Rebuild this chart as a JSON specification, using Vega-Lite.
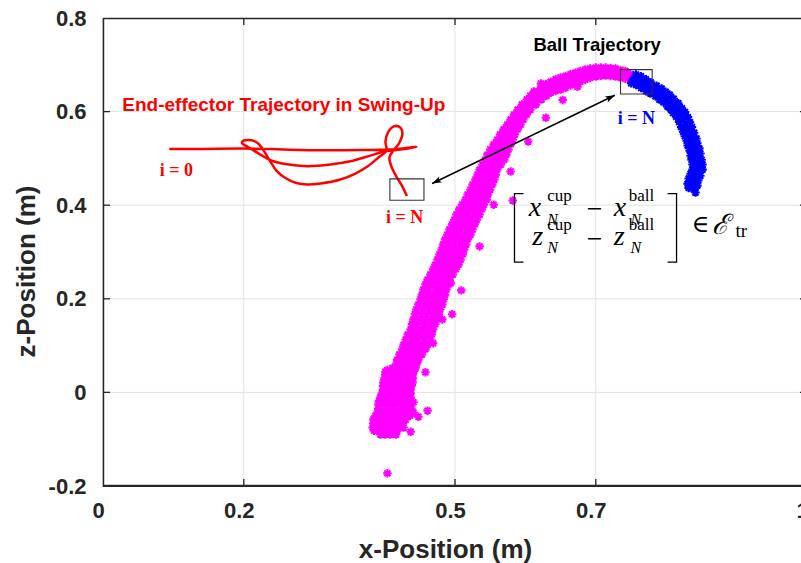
{
 "$schema": "https://vega.github.io/schema/vega-lite/v6.json",
 "width": 704,
 "height": 468,
 "autosize": {"type": "none"},
 "padding": {"left": 103, "top": 18, "right": -6, "bottom": 77},
 "background": "white",
 "datasets": {
  "gridX": [{"x":0.2},{"x":0.5},{"x":0.7}],
  "gridY": [{"z":0},{"z":0.2},{"z":0.4},{"z":0.6}],
  "frame": [
   {"x":0.0008,"x2":0.0008,"z":-0.1988,"z2":0.7988},{"x":0.0008,"x2":0.9993,"z":-0.1988,"z2":-0.1988},{"x":0.0008,"x2":0.9993,"z":0.7988,"z2":0.7988},
   {"x":0.2,"x2":0.2,"z":-0.1988,"z2":-0.185},{"x":0.5,"x2":0.5,"z":-0.1988,"z2":-0.185},{"x":0.7,"x2":0.7,"z":-0.1988,"z2":-0.185},
   {"x":0.2,"x2":0.2,"z":0.785,"z2":0.7988},{"x":0.5,"x2":0.5,"z":0.785,"z2":0.7988},{"x":0.7,"x2":0.7,"z":0.785,"z2":0.7988},
   {"x":0.0008,"x2":0.01,"z":0.0001,"z2":0.0001},{"x":0.0008,"x2":0.01,"z":0.2,"z2":0.2},{"x":0.0008,"x2":0.01,"z":0.4,"z2":0.4},{"x":0.0008,"x2":0.01,"z":0.6,"z2":0.6},
   {"x":0.99,"x2":0.9993,"z":0.0001,"z2":0.0001},{"x":0.99,"x2":0.9993,"z":0.2,"z2":0.2},{"x":0.99,"x2":0.9993,"z":0.4,"z2":0.4},{"x":0.99,"x2":0.9993,"z":0.6,"z2":0.6}
  ],
  "mag": [
   {"x":0.394,"z":-0.09},{"x":0.401,"z":-0.09},{"x":0.408,"z":-0.09},{"x":0.416,"z":-0.09},
   {"x":0.385,"z":-0.082},{"x":0.393,"z":-0.082},{"x":0.401,"z":-0.082},{"x":0.41,"z":-0.082},{"x":0.418,"z":-0.082},
   {"x":0.383,"z":-0.075},{"x":0.392,"z":-0.075},{"x":0.402,"z":-0.075},{"x":0.412,"z":-0.075},{"x":0.422,"z":-0.075},
   {"x":0.384,"z":-0.066},{"x":0.394,"z":-0.066},{"x":0.405,"z":-0.066},{"x":0.415,"z":-0.066},{"x":0.426,"z":-0.066},
   {"x":0.384,"z":-0.058},{"x":0.395,"z":-0.058},{"x":0.407,"z":-0.058},{"x":0.418,"z":-0.058},{"x":0.43,"z":-0.058},
   {"x":0.387,"z":-0.05},{"x":0.399,"z":-0.05},{"x":0.411,"z":-0.05},{"x":0.423,"z":-0.05},{"x":0.436,"z":-0.05},
   {"x":0.39,"z":-0.043},{"x":0.403,"z":-0.043},{"x":0.415,"z":-0.043},{"x":0.428,"z":-0.043},{"x":0.441,"z":-0.043},
   {"x":0.391,"z":-0.035},{"x":0.403,"z":-0.035},{"x":0.414,"z":-0.035},{"x":0.426,"z":-0.035},{"x":0.438,"z":-0.035},
   {"x":0.391,"z":-0.026},{"x":0.402,"z":-0.026},{"x":0.414,"z":-0.026},{"x":0.425,"z":-0.026},{"x":0.437,"z":-0.026},
   {"x":0.392,"z":-0.018},{"x":0.403,"z":-0.018},{"x":0.414,"z":-0.018},{"x":0.426,"z":-0.018},{"x":0.437,"z":-0.018},
   {"x":0.394,"z":-0.011},{"x":0.405,"z":-0.011},{"x":0.416,"z":-0.011},{"x":0.426,"z":-0.011},{"x":0.437,"z":-0.011},
   {"x":0.396,"z":-0.002},{"x":0.406,"z":-0.002},{"x":0.416,"z":-0.002},{"x":0.427,"z":-0.002},{"x":0.437,"z":-0.002},
   {"x":0.398,"z":0.006},{"x":0.408,"z":0.006},{"x":0.418,"z":0.006},{"x":0.428,"z":0.006},{"x":0.437,"z":0.006},
   {"x":0.398,"z":0.014},{"x":0.408,"z":0.014},{"x":0.418,"z":0.014},{"x":0.428,"z":0.014},{"x":0.438,"z":0.014},
   {"x":0.398,"z":0.021},{"x":0.409,"z":0.021},{"x":0.419,"z":0.021},{"x":0.43,"z":0.021},{"x":0.44,"z":0.021},
   {"x":0.4,"z":0.03},{"x":0.41,"z":0.03},{"x":0.42,"z":0.03},{"x":0.43,"z":0.03},{"x":0.44,"z":0.03},
   {"x":0.401,"z":0.038},{"x":0.411,"z":0.038},{"x":0.421,"z":0.038},{"x":0.431,"z":0.038},{"x":0.44,"z":0.038},
   {"x":0.408,"z":0.046},{"x":0.417,"z":0.046},{"x":0.425,"z":0.046},{"x":0.434,"z":0.046},{"x":0.442,"z":0.046},
   {"x":0.415,"z":0.053},{"x":0.422,"z":0.053},{"x":0.43,"z":0.053},{"x":0.437,"z":0.053},{"x":0.444,"z":0.053},
   {"x":0.401,"z":0.044},{"x":0.411,"z":0.052},{"x":0.404,"z":0.048},
   {"x":0.389,"z":-0.07},{"x":0.399,"z":-0.07},{"x":0.41,"z":-0.07},{"x":0.42,"z":-0.07},
   {"x":0.39,"z":-0.054},{"x":0.401,"z":-0.054},{"x":0.413,"z":-0.054},{"x":0.424,"z":-0.054},
   {"x":0.397,"z":-0.039},{"x":0.409,"z":-0.039},{"x":0.42,"z":-0.039},{"x":0.432,"z":-0.039},
   {"x":0.397,"z":-0.022},{"x":0.408,"z":-0.022},{"x":0.42,"z":-0.022},{"x":0.431,"z":-0.022},
   {"x":0.4,"z":-0.006},{"x":0.411,"z":-0.006},{"x":0.421,"z":-0.006},{"x":0.432,"z":-0.006},
   {"x":0.403,"z":0.01},{"x":0.413,"z":0.01},{"x":0.423,"z":0.01},{"x":0.433,"z":0.01},
   {"x":0.404,"z":0.026},{"x":0.414,"z":0.026},{"x":0.425,"z":0.026},{"x":0.435,"z":0.026},
   {"x":0.413,"z":0.042},{"x":0.421,"z":0.042},{"x":0.43,"z":0.042},{"x":0.438,"z":0.042},
   {"x":0.417,"z":0.062},{"x":0.424,"z":0.062},{"x":0.431,"z":0.062},{"x":0.439,"z":0.062},{"x":0.446,"z":0.062},
   {"x":0.418,"z":0.07},{"x":0.426,"z":0.07},{"x":0.433,"z":0.07},{"x":0.441,"z":0.07},{"x":0.448,"z":0.07},
   {"x":0.421,"z":0.081},{"x":0.429,"z":0.081},{"x":0.437,"z":0.081},{"x":0.445,"z":0.081},{"x":0.453,"z":0.081},
   {"x":0.425,"z":0.092},{"x":0.433,"z":0.092},{"x":0.441,"z":0.092},{"x":0.45,"z":0.092},{"x":0.458,"z":0.092},
   {"x":0.427,"z":0.102},{"x":0.436,"z":0.102},{"x":0.444,"z":0.102},{"x":0.453,"z":0.102},{"x":0.461,"z":0.102},
   {"x":0.43,"z":0.113},{"x":0.439,"z":0.113},{"x":0.447,"z":0.113},{"x":0.456,"z":0.113},{"x":0.465,"z":0.113},
   {"x":0.433,"z":0.124},{"x":0.442,"z":0.124},{"x":0.45,"z":0.124},{"x":0.459,"z":0.124},{"x":0.467,"z":0.124},
   {"x":0.437,"z":0.135},{"x":0.445,"z":0.135},{"x":0.453,"z":0.135},{"x":0.461,"z":0.135},{"x":0.469,"z":0.135},
   {"x":0.439,"z":0.146},{"x":0.447,"z":0.146},{"x":0.456,"z":0.146},{"x":0.464,"z":0.146},{"x":0.472,"z":0.146},
   {"x":0.441,"z":0.156},{"x":0.45,"z":0.156},{"x":0.458,"z":0.156},{"x":0.467,"z":0.156},{"x":0.475,"z":0.156},
   {"x":0.443,"z":0.167},{"x":0.452,"z":0.167},{"x":0.46,"z":0.167},{"x":0.469,"z":0.167},{"x":0.477,"z":0.167},
   {"x":0.445,"z":0.177},{"x":0.454,"z":0.177},{"x":0.462,"z":0.177},{"x":0.471,"z":0.177},{"x":0.479,"z":0.177},
   {"x":0.448,"z":0.188},{"x":0.457,"z":0.188},{"x":0.465,"z":0.188},{"x":0.474,"z":0.188},{"x":0.482,"z":0.188},
   {"x":0.451,"z":0.199},{"x":0.459,"z":0.199},{"x":0.468,"z":0.199},{"x":0.476,"z":0.199},{"x":0.484,"z":0.199},
   {"x":0.453,"z":0.209},{"x":0.461,"z":0.209},{"x":0.47,"z":0.209},{"x":0.478,"z":0.209},{"x":0.486,"z":0.209},
   {"x":0.455,"z":0.22},{"x":0.463,"z":0.22},{"x":0.472,"z":0.22},{"x":0.48,"z":0.22},{"x":0.488,"z":0.22},
   {"x":0.458,"z":0.231},{"x":0.466,"z":0.231},{"x":0.474,"z":0.231},{"x":0.482,"z":0.231},{"x":0.49,"z":0.231},
   {"x":0.461,"z":0.241},{"x":0.469,"z":0.241},{"x":0.477,"z":0.241},{"x":0.485,"z":0.241},{"x":0.492,"z":0.241},
   {"x":0.465,"z":0.252},{"x":0.473,"z":0.252},{"x":0.481,"z":0.252},{"x":0.489,"z":0.252},{"x":0.497,"z":0.252},
   {"x":0.469,"z":0.263},{"x":0.477,"z":0.263},{"x":0.485,"z":0.263},{"x":0.493,"z":0.263},{"x":0.501,"z":0.263},
   {"x":0.472,"z":0.273},{"x":0.48,"z":0.273},{"x":0.488,"z":0.273},{"x":0.497,"z":0.273},{"x":0.505,"z":0.273},
   {"x":0.475,"z":0.284},{"x":0.483,"z":0.284},{"x":0.492,"z":0.284},{"x":0.5,"z":0.284},{"x":0.508,"z":0.284},
   {"x":0.478,"z":0.295},{"x":0.486,"z":0.295},{"x":0.494,"z":0.295},{"x":0.503,"z":0.295},{"x":0.511,"z":0.295},
   {"x":0.481,"z":0.305},{"x":0.489,"z":0.305},{"x":0.497,"z":0.305},{"x":0.505,"z":0.305},{"x":0.513,"z":0.305},
   {"x":0.483,"z":0.316},{"x":0.491,"z":0.316},{"x":0.499,"z":0.316},{"x":0.508,"z":0.316},{"x":0.516,"z":0.316},
   {"x":0.486,"z":0.327},{"x":0.494,"z":0.327},{"x":0.502,"z":0.327},{"x":0.51,"z":0.327},{"x":0.518,"z":0.327},
   {"x":0.489,"z":0.337},{"x":0.497,"z":0.337},{"x":0.505,"z":0.337},{"x":0.514,"z":0.337},{"x":0.522,"z":0.337},
   {"x":0.492,"z":0.348},{"x":0.5,"z":0.348},{"x":0.508,"z":0.348},{"x":0.517,"z":0.348},{"x":0.525,"z":0.348},
   {"x":0.496,"z":0.359},{"x":0.504,"z":0.359},{"x":0.512,"z":0.359},{"x":0.52,"z":0.359},{"x":0.528,"z":0.359},
   {"x":0.499,"z":0.369},{"x":0.507,"z":0.369},{"x":0.515,"z":0.369},{"x":0.523,"z":0.369},{"x":0.531,"z":0.369},
   {"x":0.502,"z":0.38},{"x":0.51,"z":0.38},{"x":0.518,"z":0.38},{"x":0.527,"z":0.38},{"x":0.535,"z":0.38},
   {"x":0.506,"z":0.391},{"x":0.514,"z":0.391},{"x":0.522,"z":0.391},{"x":0.53,"z":0.391},{"x":0.538,"z":0.391},
   {"x":0.51,"z":0.401},{"x":0.518,"z":0.401},{"x":0.525,"z":0.401},{"x":0.533,"z":0.401},{"x":0.541,"z":0.401},
   {"x":0.515,"z":0.412},{"x":0.522,"z":0.412},{"x":0.53,"z":0.412},{"x":0.537,"z":0.412},{"x":0.545,"z":0.412},
   {"x":0.518,"z":0.423},{"x":0.525,"z":0.423},{"x":0.532,"z":0.423},{"x":0.54,"z":0.423},{"x":0.547,"z":0.423},
   {"x":0.522,"z":0.433},{"x":0.529,"z":0.433},{"x":0.536,"z":0.433},{"x":0.543,"z":0.433},{"x":0.55,"z":0.433},
   {"x":0.525,"z":0.444},{"x":0.532,"z":0.444},{"x":0.539,"z":0.444},{"x":0.546,"z":0.444},{"x":0.553,"z":0.444},
   {"x":0.529,"z":0.455},{"x":0.536,"z":0.455},{"x":0.542,"z":0.455},{"x":0.549,"z":0.455},{"x":0.556,"z":0.455},
   {"x":0.532,"z":0.465},{"x":0.539,"z":0.465},{"x":0.545,"z":0.465},{"x":0.552,"z":0.465},{"x":0.558,"z":0.465},
   {"x":0.535,"z":0.476},{"x":0.541,"z":0.476},{"x":0.547,"z":0.476},{"x":0.554,"z":0.476},{"x":0.56,"z":0.476},
   {"x":0.539,"z":0.487},{"x":0.546,"z":0.487},{"x":0.552,"z":0.487},{"x":0.559,"z":0.487},{"x":0.565,"z":0.487},
   {"x":0.543,"z":0.497},{"x":0.55,"z":0.497},{"x":0.556,"z":0.497},{"x":0.563,"z":0.497},{"x":0.57,"z":0.497},
   {"x":0.546,"z":0.508},{"x":0.553,"z":0.508},{"x":0.559,"z":0.508},{"x":0.566,"z":0.508},{"x":0.573,"z":0.508},
   {"x":0.55,"z":0.519},{"x":0.556,"z":0.519},{"x":0.563,"z":0.519},{"x":0.569,"z":0.519},{"x":0.576,"z":0.519},
   {"x":0.555,"z":0.53},{"x":0.561,"z":0.53},{"x":0.567,"z":0.53},{"x":0.573,"z":0.53},{"x":0.579,"z":0.53},
   {"x":0.56,"z":0.54},{"x":0.565,"z":0.54},{"x":0.571,"z":0.54},{"x":0.576,"z":0.54},{"x":0.582,"z":0.54},
   {"x":0.564,"z":0.551},{"x":0.569,"z":0.551},{"x":0.574,"z":0.551},{"x":0.58,"z":0.551},{"x":0.585,"z":0.551},
   {"x":0.569,"z":0.562},{"x":0.574,"z":0.562},{"x":0.579,"z":0.562},{"x":0.584,"z":0.562},{"x":0.589,"z":0.562},
   {"x":0.574,"z":0.572},{"x":0.579,"z":0.572},{"x":0.583,"z":0.572},{"x":0.588,"z":0.572},{"x":0.593,"z":0.572},
   {"x":0.579,"z":0.583},{"x":0.583,"z":0.583},{"x":0.588,"z":0.583},{"x":0.592,"z":0.583},{"x":0.597,"z":0.583},
   {"x":0.584,"z":0.594},{"x":0.588,"z":0.594},{"x":0.593,"z":0.594},{"x":0.597,"z":0.594},{"x":0.602,"z":0.594},
   {"x":0.589,"z":0.604},{"x":0.593,"z":0.604},{"x":0.598,"z":0.604},{"x":0.602,"z":0.604},{"x":0.607,"z":0.604},
   {"x":0.595,"z":0.615},{"x":0.6,"z":0.615},{"x":0.605,"z":0.615},{"x":0.61,"z":0.615},{"x":0.615,"z":0.615},
   {"x":0.602,"z":0.626},{"x":0.607,"z":0.626},{"x":0.612,"z":0.626},{"x":0.618,"z":0.626},{"x":0.623,"z":0.626},
   {"x":0.607,"z":0.634},{"x":0.613,"z":0.634},{"x":0.618,"z":0.634},{"x":0.624,"z":0.634},{"x":0.63,"z":0.634},
   {"x":0.612,"z":0.643},{"x":0.618,"z":0.643},{"x":0.624,"z":0.643},{"x":0.63,"z":0.643},{"x":0.636,"z":0.643},
   {"x":0.622,"z":0.643},{"x":0.622,"z":0.652},{"x":0.622,"z":0.66},
   {"x":0.629,"z":0.638},{"x":0.629,"z":0.648},{"x":0.629,"z":0.659},
   {"x":0.636,"z":0.64},{"x":0.636,"z":0.651},{"x":0.636,"z":0.664},
   {"x":0.643,"z":0.644},{"x":0.643,"z":0.656},{"x":0.643,"z":0.669},
   {"x":0.65,"z":0.647},{"x":0.65,"z":0.66},{"x":0.65,"z":0.673},
   {"x":0.657,"z":0.651},{"x":0.657,"z":0.664},{"x":0.657,"z":0.676},
   {"x":0.664,"z":0.656},{"x":0.664,"z":0.668},{"x":0.664,"z":0.68},
   {"x":0.671,"z":0.66},{"x":0.671,"z":0.671},{"x":0.671,"z":0.683},
   {"x":0.678,"z":0.664},{"x":0.678,"z":0.675},{"x":0.678,"z":0.687},
   {"x":0.685,"z":0.668},{"x":0.685,"z":0.679},{"x":0.685,"z":0.69},
   {"x":0.692,"z":0.672},{"x":0.692,"z":0.682},{"x":0.692,"z":0.692},
   {"x":0.7,"z":0.675},{"x":0.7,"z":0.684},{"x":0.7,"z":0.694},
   {"x":0.707,"z":0.676},{"x":0.707,"z":0.685},{"x":0.707,"z":0.694},
   {"x":0.714,"z":0.677},{"x":0.714,"z":0.686},{"x":0.714,"z":0.694},
   {"x":0.721,"z":0.676},{"x":0.721,"z":0.685},{"x":0.721,"z":0.693},
   {"x":0.728,"z":0.675},{"x":0.728,"z":0.684},{"x":0.728,"z":0.692},
   {"x":0.735,"z":0.673},{"x":0.735,"z":0.681},{"x":0.735,"z":0.689},
   {"x":0.742,"z":0.67},{"x":0.742,"z":0.679},{"x":0.742,"z":0.687},
   {"x":0.749,"z":0.668},{"x":0.749,"z":0.68},
   {"x":0.674,"z":0.653},{"x":0.653,"z":0.625},{"x":0.629,"z":0.587},{"x":0.604,"z":0.536},{"x":0.579,"z":0.472},
   {"x":0.582,"z":0.41},{"x":0.555,"z":0.401},{"x":0.535,"z":0.312},{"x":0.494,"z":0.233},{"x":0.509,"z":0.218},
   {"x":0.496,"z":0.167},{"x":0.482,"z":0.156},{"x":0.469,"z":0.105},{"x":0.458,"z":0.043},{"x":0.461,"z":-0.039},
   {"x":0.448,"z":-0.052},{"x":0.437,"z":-0.084},{"x":0.427,"z":-0.075},{"x":0.441,"z":-0.021},{"x":0.404,"z":-0.173}
  ],
  "blu": [
   {"x":0.757,"z":0.6794},{"x":0.7536,"z":0.67},{"x":0.7502,"z":0.6606},
   {"x":0.7641,"z":0.6754},{"x":0.7607,"z":0.666},{"x":0.7573,"z":0.6566},
   {"x":0.7712,"z":0.6694},{"x":0.7678,"z":0.66},{"x":0.7644,"z":0.6506},
   {"x":0.7783,"z":0.6624},{"x":0.7749,"z":0.653},{"x":0.7715,"z":0.6436},
   {"x":0.7864,"z":0.6553},{"x":0.782,"z":0.647},{"x":0.7776,"z":0.6387},
   {"x":0.7935,"z":0.6493},{"x":0.7891,"z":0.641},{"x":0.7847,"z":0.6327},
   {"x":0.7992,"z":0.6423},{"x":0.7948,"z":0.634},{"x":0.7904,"z":0.6257},
   {"x":0.8049,"z":0.6363},{"x":0.8005,"z":0.628},{"x":0.7961,"z":0.6197},
   {"x":0.8106,"z":0.6273},{"x":0.8062,"z":0.619},{"x":0.8018,"z":0.6107},
   {"x":0.8172,"z":0.6177},{"x":0.8118,"z":0.611},{"x":0.8064,"z":0.6043},
   {"x":0.8224,"z":0.6071},{"x":0.8161,"z":0.602},{"x":0.8098,"z":0.5969},
   {"x":0.8267,"z":0.5991},{"x":0.8204,"z":0.594},{"x":0.8141,"z":0.5889},
   {"x":0.8309,"z":0.5881},{"x":0.8246,"z":0.583},{"x":0.8183,"z":0.5779},
   {"x":0.8338,"z":0.5771},{"x":0.8275,"z":0.572},{"x":0.8212,"z":0.5669},
   {"x":0.8366,"z":0.5671},{"x":0.8303,"z":0.562},{"x":0.824,"z":0.5569},
   {"x":0.8397,"z":0.5548},{"x":0.8331,"z":0.551},{"x":0.8265,"z":0.5472},
   {"x":0.8429,"z":0.5424},{"x":0.836,"z":0.54},{"x":0.8291,"z":0.5376},
   {"x":0.8443,"z":0.5324},{"x":0.8374,"z":0.53},{"x":0.8305,"z":0.5276},
   {"x":0.8471,"z":0.5214},{"x":0.8402,"z":0.519},{"x":0.8333,"z":0.5166},
   {"x":0.8485,"z":0.5104},{"x":0.8416,"z":0.508},{"x":0.8347,"z":0.5056},
   {"x":0.8502,"z":0.497},{"x":0.8431,"z":0.497},{"x":0.836,"z":0.497},
   {"x":0.8516,"z":0.487},{"x":0.8445,"z":0.487},{"x":0.8374,"z":0.487},
   {"x":0.8516,"z":0.476},{"x":0.8445,"z":0.476},{"x":0.8374,"z":0.476},
   {"x":0.8485,"z":0.4629},{"x":0.8416,"z":0.465},{"x":0.8347,"z":0.4671},
   {"x":0.8457,"z":0.4529},{"x":0.8388,"z":0.455},{"x":0.8319,"z":0.4571},
   {"x":0.8443,"z":0.4419},{"x":0.8374,"z":0.444},{"x":0.8305,"z":0.4461},
   {"x":0.8402,"z":0.435},{"x":0.836,"z":0.436},{"x":0.8318,"z":0.437},
   {"x":0.8416,"z":0.427}
  ],
  "ee": [
   {"i":1,"x":0.0942,"z":0.5203},{"i":2,"x":0.1383,"z":0.5203},{"i":3,"x":0.1994,"z":0.521},{"i":4,"x":0.2377,"z":0.5199},
   {"i":5,"x":0.2804,"z":0.5182},{"i":6,"x":0.323,"z":0.5173},{"i":7,"x":0.3656,"z":0.5178},{"i":8,"x":0.4026,"z":0.5188},
   {"i":9,"x":0.4296,"z":0.522},{"i":10,"x":0.4452,"z":0.5246},{"i":11,"x":0.4225,"z":0.5188},{"i":12,"x":0.4026,"z":0.5156},
   {"i":13,"x":0.3799,"z":0.506},{"i":14,"x":0.3514,"z":0.4939},{"i":15,"x":0.323,"z":0.4868},{"i":16,"x":0.2903,"z":0.4832},
   {"i":17,"x":0.2591,"z":0.4879},{"i":18,"x":0.2377,"z":0.4964},{"i":19,"x":0.2235,"z":0.5082},{"i":20,"x":0.2122,"z":0.5188},
   {"i":21,"x":0.2022,"z":0.5274},{"i":22,"x":0.1975,"z":0.5327},{"i":23,"x":0.1994,"z":0.538},{"i":24,"x":0.2065,"z":0.5395},
   {"i":25,"x":0.215,"z":0.537},{"i":26,"x":0.2221,"z":0.5295},{"i":27,"x":0.2292,"z":0.5146},{"i":28,"x":0.2377,"z":0.4932},
   {"i":29,"x":0.2463,"z":0.474},{"i":30,"x":0.2591,"z":0.458},{"i":31,"x":0.2747,"z":0.4473},{"i":32,"x":0.2903,"z":0.4441},
   {"i":33,"x":0.3088,"z":0.4462},{"i":34,"x":0.3372,"z":0.4548},{"i":35,"x":0.3585,"z":0.4676},{"i":36,"x":0.3756,"z":0.4825},
   {"i":37,"x":0.3912,"z":0.5018},{"i":38,"x":0.4026,"z":0.5167},{"i":39,"x":0.4012,"z":0.5359},{"i":40,"x":0.4054,"z":0.5573},
   {"i":41,"x":0.414,"z":0.569},{"i":42,"x":0.4225,"z":0.5658},{"i":43,"x":0.4253,"z":0.553},{"i":44,"x":0.4211,"z":0.5338},
   {"i":45,"x":0.4125,"z":0.5167},{"i":46,"x":0.4069,"z":0.5018},{"i":47,"x":0.4097,"z":0.4825},{"i":48,"x":0.4168,"z":0.4612},
   {"i":49,"x":0.4253,"z":0.4398},{"i":50,"x":0.4317,"z":0.4196}
  ],
  "boxes": [
   {"x":0.4075,"x2":0.4559,"z":0.4106,"z2":0.4563},
   {"x":0.7351,"x2":0.7801,"z":0.6377,"z2":0.6896}
  ],
  "arrow": [{"x":0.4675,"z":0.4462},{"x":0.727,"z":0.6348}],
  "headA": [{"x":0.727,"z":0.6348}],
  "headB": [{"x":0.4675,"z":0.4462}],
  "eeLabel": [{"x":0.0274,"z":0.602,"t":"End-effector Trajectory in Swing-Up"}],
  "ballLabel": [{"x":0.7019,"z":0.7287,"t":"Ball Trajectory"}],
  "iRed": [{"x":0.1042,"z":0.463,"t":"i = 0"},{"x":0.4284,"z":0.3623,"t":"i = N"}],
  "iBlue": [{"x":0.7576,"z":0.5743,"t":"i = N"}],
  "brackets": [
   {"g":"L","o":1,"x":0.5973,"z":0.4249},{"g":"L","o":2,"x":0.5845,"z":0.4249},{"g":"L","o":3,"x":0.5845,"z":0.2782},{"g":"L","o":4,"x":0.5973,"z":0.2782},
   {"g":"R","o":1,"x":0.8019,"z":0.4249},{"g":"R","o":2,"x":0.8147,"z":0.4249},{"g":"R","o":3,"x":0.8147,"z":0.2782},{"g":"R","o":4,"x":0.8019,"z":0.2782}
  ],
  "mathMain": [{"x":0.6048,"z":0.3764,"t":"x"},{"x":0.7256,"z":0.3764,"t":"x"},{"x":0.6096,"z":0.316,"t":"z"},{"x":0.7256,"z":0.316,"t":"z"}],
  "mathSup": [{"x":0.6309,"z":0.4098,"t":"cup"},{"x":0.7469,"z":0.4098,"t":"ball"},{"x":0.6309,"z":0.3479,"t":"cup"},{"x":0.7469,"z":0.3479,"t":"ball"}],
  "mathSub": [{"x":0.6309,"z":0.3577,"t":"N"},{"x":0.7493,"z":0.3577,"t":"N"},{"x":0.6309,"z":0.2973,"t":"N"},{"x":0.7493,"z":0.2973,"t":"N"}],
  "minus": [{"x":0.6982,"z":0.3907,"t":"−"},{"x":0.6982,"z":0.3267,"t":"−"}],
  "elem": [{"x":0.849,"z":0.3438,"t":"∈"}],
  "calE": [{"x":0.8654,"z":0.3395,"t":"ℰ"}],
  "tr": [{"x":0.8985,"z":0.3331,"t":"tr"}]
 },
 "layer": [
  {
   "data": {"name": "gridX"},
   "mark": {"type": "rule", "color": "#e3e3e3", "strokeWidth": 1},
   "encoding": {
    "x": {"field": "x", "type": "quantitative", "scale": {"domain": [0, 1], "nice": false, "zero": false},
      "axis": {"orient": "bottom", "values": [0, 0.2, 0.5, 0.7, 1], "format": "~g", "grid": false, "domain": false, "ticks": false, "labels": true, "labelPadding": 14, "labelOffset": -5, "labelFlush": false, "labelOverlap": false, "title": "x-Position (m)", "titleX": 342, "titleY": 71, "titleBaseline": "alphabetic", "titleAlign": "center"}}
   }
  },
  {
   "data": {"name": "gridY"},
   "mark": {"type": "rule", "color": "#e3e3e3", "strokeWidth": 1},
   "encoding": {
    "y": {"field": "z", "type": "quantitative", "scale": {"domain": [-0.2, 0.8], "nice": false, "zero": false},
      "axis": {"orient": "left", "values": [-0.2, 0, 0.2, 0.4, 0.6, 0.8], "labelExpr": "toString(round(datum.value*10)/10)", "grid": false, "domain": false, "ticks": false, "labels": true, "labelPadding": 17, "labelFlush": false, "labelOverlap": false, "title": "z-Position (m)", "titleX": -69, "titleY": 253, "titleAngle": -90, "titleBaseline": "alphabetic", "titleAlign": "center"}}
   }
  },
  {
   "data": {"name": "mag"},
   "mark": {"type": "point", "shape": "M-1,0L1,0M0,-1L0,1M-0.7,-0.7L0.7,0.7M-0.7,0.7L0.7,-0.7", "filled": false, "color": "#ff00ff", "strokeWidth": 2.1, "size": 72, "opacity": 1},
   "encoding": {"x": {"field": "x", "type": "quantitative"}, "y": {"field": "z", "type": "quantitative"}}
  },
  {
   "data": {"name": "blu"},
   "mark": {"type": "point", "shape": "M-1,0L1,0M0,-1L0,1M-0.7,-0.7L0.7,0.7M-0.7,0.7L0.7,-0.7", "filled": false, "color": "#0000ff", "strokeWidth": 2.1, "size": 72, "opacity": 1},
   "encoding": {"x": {"field": "x", "type": "quantitative"}, "y": {"field": "z", "type": "quantitative"}}
  },
  {
   "data": {"name": "ee"},
   "mark": {"type": "line", "color": "#ff0000", "strokeWidth": 2.5, "interpolate": "catmull-rom"},
   "encoding": {"x": {"field": "x", "type": "quantitative"}, "y": {"field": "z", "type": "quantitative"}, "order": {"field": "i", "type": "quantitative"}}
  },
  {
   "data": {"name": "boxes"},
   "mark": {"type": "rect", "filled": false, "stroke": "#333333", "strokeWidth": 1.1},
   "encoding": {"x": {"field": "x", "type": "quantitative"}, "y": {"field": "z", "type": "quantitative"}, "x2": {"field": "x2"}, "y2": {"field": "z2"}}
  },
  {
   "data": {"name": "frame"},
   "mark": {"type": "rule", "color": "#262626", "strokeWidth": 1.3},
   "encoding": {"x": {"field": "x", "type": "quantitative"}, "y": {"field": "z", "type": "quantitative"}, "x2": {"field": "x2"}, "y2": {"field": "z2"}}
  },
  {
   "data": {"name": "arrow"},
   "mark": {"type": "line", "color": "#000000", "strokeWidth": 1.6},
   "encoding": {"x": {"field": "x", "type": "quantitative"}, "y": {"field": "z", "type": "quantitative"}}
  },
  {
   "data": {"name": "headA"},
   "mark": {"type": "point", "shape": "M0,0L0.55,1.6L0,1.2L-0.55,1.6Z", "filled": true, "color": "#000000", "opacity": 1, "size": 144, "angle": 64.2, "strokeWidth": 0},
   "encoding": {"x": {"field": "x", "type": "quantitative"}, "y": {"field": "z", "type": "quantitative"}}
  },
  {
   "data": {"name": "headB"},
   "mark": {"type": "point", "shape": "M0,0L0.55,1.6L0,1.2L-0.55,1.6Z", "filled": true, "color": "#000000", "opacity": 1, "size": 144, "angle": 244.2, "strokeWidth": 0},
   "encoding": {"x": {"field": "x", "type": "quantitative"}, "y": {"field": "z", "type": "quantitative"}}
  },
  {
   "data": {"name": "eeLabel"},
   "mark": {"type": "text", "font": "Liberation Sans", "fontWeight": "bold", "fontSize": 19, "color": "#ff0000", "align": "left", "baseline": "alphabetic"},
   "encoding": {"x": {"field": "x", "type": "quantitative"}, "y": {"field": "z", "type": "quantitative"}, "text": {"field": "t"}}
  },
  {
   "data": {"name": "ballLabel"},
   "mark": {"type": "text", "font": "Liberation Sans", "fontWeight": "bold", "fontSize": 18.5, "color": "#000000", "align": "center", "baseline": "alphabetic"},
   "encoding": {"x": {"field": "x", "type": "quantitative"}, "y": {"field": "z", "type": "quantitative"}, "text": {"field": "t"}}
  },
  {
   "data": {"name": "iRed"},
   "mark": {"type": "text", "font": "Liberation Serif", "fontWeight": "bold", "fontSize": 18, "color": "#ff0000", "align": "center", "baseline": "alphabetic"},
   "encoding": {"x": {"field": "x", "type": "quantitative"}, "y": {"field": "z", "type": "quantitative"}, "text": {"field": "t"}}
  },
  {
   "data": {"name": "iBlue"},
   "mark": {"type": "text", "font": "Liberation Serif", "fontWeight": "bold", "fontSize": 18, "color": "#0000ff", "align": "center", "baseline": "alphabetic"},
   "encoding": {"x": {"field": "x", "type": "quantitative"}, "y": {"field": "z", "type": "quantitative"}, "text": {"field": "t"}}
  },
  {
   "data": {"name": "brackets"},
   "mark": {"type": "line", "color": "#000000", "strokeWidth": 1.3},
   "encoding": {"x": {"field": "x", "type": "quantitative"}, "y": {"field": "z", "type": "quantitative"}, "detail": {"field": "g"}, "order": {"field": "o", "type": "quantitative"}}
  },
  {
   "data": {"name": "mathMain"},
   "mark": {"type": "text", "font": "Liberation Serif", "fontStyle": "italic", "fontSize": 28, "color": "#000000", "align": "left", "baseline": "alphabetic"},
   "encoding": {"x": {"field": "x", "type": "quantitative"}, "y": {"field": "z", "type": "quantitative"}, "text": {"field": "t"}}
  },
  {
   "data": {"name": "mathSup"},
   "mark": {"type": "text", "font": "Liberation Serif", "fontSize": 17, "color": "#000000", "align": "left", "baseline": "alphabetic"},
   "encoding": {"x": {"field": "x", "type": "quantitative"}, "y": {"field": "z", "type": "quantitative"}, "text": {"field": "t"}}
  },
  {
   "data": {"name": "mathSub"},
   "mark": {"type": "text", "font": "Liberation Serif", "fontStyle": "italic", "fontSize": 16, "color": "#000000", "align": "left", "baseline": "alphabetic"},
   "encoding": {"x": {"field": "x", "type": "quantitative"}, "y": {"field": "z", "type": "quantitative"}, "text": {"field": "t"}}
  },
  {
   "data": {"name": "minus"},
   "mark": {"type": "text", "font": "Liberation Serif", "fontSize": 28, "color": "#000000", "align": "center", "baseline": "middle"},
   "encoding": {"x": {"field": "x", "type": "quantitative"}, "y": {"field": "z", "type": "quantitative"}, "text": {"field": "t"}}
  },
  {
   "data": {"name": "elem"},
   "mark": {"type": "text", "font": "DejaVu Serif", "fontSize": 24, "color": "#000000", "align": "center", "baseline": "alphabetic"},
   "encoding": {"x": {"field": "x", "type": "quantitative"}, "y": {"field": "z", "type": "quantitative"}, "text": {"field": "t"}}
  },
  {
   "data": {"name": "calE"},
   "mark": {"type": "text", "font": "DejaVu Serif", "fontStyle": "italic", "fontSize": 28, "color": "#000000", "align": "left", "baseline": "alphabetic"},
   "encoding": {"x": {"field": "x", "type": "quantitative"}, "y": {"field": "z", "type": "quantitative"}, "text": {"field": "t"}}
  },
  {
   "data": {"name": "tr"},
   "mark": {"type": "text", "font": "Liberation Serif", "fontSize": 19, "color": "#000000", "align": "left", "baseline": "alphabetic"},
   "encoding": {"x": {"field": "x", "type": "quantitative"}, "y": {"field": "z", "type": "quantitative"}, "text": {"field": "t"}}
  }
 ],
 "config": {
  "view": {"stroke": "#262626", "strokeWidth": 1.2},
  "axis": {
   "labelFont": "Liberation Sans", "labelFontWeight": "bold", "labelFontSize": 22, "labelColor": "#262626",
   "titleFont": "Liberation Sans", "titleFontWeight": "bold", "titleFontSize": 26, "titleColor": "#262626"
  }
 }
}
